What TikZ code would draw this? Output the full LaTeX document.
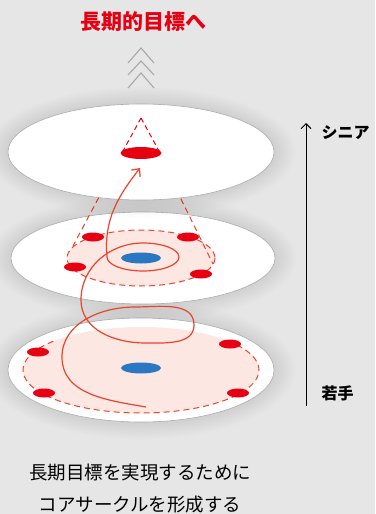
\documentclass[tikz,border=0pt]{standalone}
\usepackage{fontspec}
\newfontfamily\jp{Noto Sans CJK JP}
\usetikzlibrary{arrows.meta}
\definecolor{bg}{HTML}{E6E6E6}
\definecolor{cred}{HTML}{E60012}
\definecolor{cblue}{HTML}{2A78C2}
\definecolor{cline}{HTML}{E8452C}
\definecolor{cpink}{HTML}{FDE7E3}
\definecolor{cchev}{HTML}{A8A8A8}
\tikzset{
  layer/.style={fill=white, draw=black!32, line width=0.6pt},
  reddot/.style={fill=cred},
  bluedot/.style={fill=cblue},
  pinkarea/.style={fill=cpink},
  conedash/.style={draw=cline, dash pattern=on 6pt off 4pt, line width=1pt},
  topdash/.style={draw=cred, dash pattern=on 5pt off 3.5pt, line width=1pt},
  spiralline/.style={draw=cline, line width=1.2pt},
  chev/.style={draw=cchev, line width=1.1pt},
  titletext/.style={font=\jp\bfseries\fontsize{21}{24}\selectfont, text=cred},
  sidetext/.style={font=\jp\bfseries\fontsize{16}{19}\selectfont, anchor=west},
  captext/.style={font=\jp\fontsize{18.5}{21}\selectfont},
}
\newcommand{\glowellipse}[4]{%
  \foreach \d in {1,...,22}{%
    \fill[black, opacity=0.0042] (#1,#2) ellipse[x radius={#3+\d}, y radius={#4+0.8*\d}];
  }%
}
\begin{document}
\begin{tikzpicture}[x=1pt,y=-1pt]
\fill[bg] (0,0) rectangle (375,514);
\useasboundingbox (0,0) rectangle (375,514);

% title and chevrons
\node[titletext] (goal) at (143,22) {長期的目標へ};
\draw[chev] (128,63) -- (141,48) -- (154,63);
\draw[chev] (128,75) -- (141,61) -- (154,75);
\draw[chev] (128,88) -- (141,73) -- (154,88);

% bottom layer
\glowellipse{141}{370}{133}{52}
\draw[layer] (141,370) ellipse[x radius=133, y radius=52];
\fill[pinkarea] (141,370) ellipse[x radius=118, y radius=43];
\draw[conedash] (141,370) ++(222:118 and 43) arc[start angle=222, end angle=-34, x radius=118, y radius=43];
\fill[bluedot] (141,368) ellipse[x radius=20, y radius=5.5];
\fill[reddot] (38,352) ellipse[x radius=11, y radius=4.5];
\fill[reddot] (230,344) ellipse[x radius=11, y radius=4.5];
\fill[reddot] (44,393) ellipse[x radius=11, y radius=4.5];
\fill[reddot] (238,393) ellipse[x radius=11, y radius=4.5];

% middle layer
\glowellipse{143}{258}{132}{46}
\draw[layer] (143,258) ellipse[x radius=132, y radius=46];
\fill[pinkarea] (141,258) ellipse[x radius=74, y radius=28];
\draw[conedash] (141,258) ellipse[x radius=74, y radius=28];
\fill[bluedot] (141,258) ellipse[x radius=20, y radius=5.5];
\fill[reddot] (93,237) ellipse[x radius=11, y radius=4.5];
\fill[reddot] (188,237) ellipse[x radius=11, y radius=4.5];
\fill[reddot] (75,267) ellipse[x radius=11, y radius=4.5];
\fill[reddot] (201,274) ellipse[x radius=11, y radius=4.5];

% cone lines behind the top layer
\coordinate (apex) at (141,118);
\coordinate (coneL) at (73,246);
\coordinate (coneR) at (213,264);
\draw[conedash] (apex) -- (coneL);
\draw[conedash] (apex) -- (coneR);

% top layer
\glowellipse{141}{152}{133}{48}
\draw[layer] (141,152) ellipse[x radius=133, y radius=48];
\coordinate (baseL) at (123,151);
\coordinate (baseR) at (159,151);
\draw[topdash] (apex) -- (baseL);
\draw[topdash] (apex) -- (baseR);
\fill[reddot] (141,153) ellipse[x radius=20.5, y radius=6];

% spiral
\coordinate (sStart) at (146,407);
\coordinate (sTip) at (140,168);
\draw[spiralline, -{Straight Barb[length=6pt,width=11pt]}]
  (sStart) .. controls (109,400.5) and (62,395) .. (62,357)
  .. controls (62,323) and (101,307) .. (135,307)
  .. controls (159,307) and (194,301) .. (194,325)
  .. controls (194,345) and (165,343) .. (145,343)
  .. controls (115,343) and (81,330) .. (81,300)
  .. controls (81,267) and (110,243) .. (143,243)
  .. controls (163,243) and (179,249.3) .. (179,257)
  .. controls (179,264.7) and (163,271) .. (143,271)
  .. controls (123,271) and (107,264.7) .. (107,257)
  .. controls (103.7,220) and (117.4,197.2) .. (sTip);

% vertical scale arrow
\coordinate (abot) at (306,406);
\coordinate (atop) at (306,123);
\draw[line width=1pt, -{Straight Barb[length=5pt,width=10pt]}] (abot) -- (atop);
\node[sidetext] (senior) at (318,133) {シニア};
\node[sidetext] (young) at (318,393) {若手};

% caption
\node[captext] (cap1) at (140,473) {長期目標を実現するために};
\node[captext] (cap2) at (140,505) {コアサークルを形成する};
\end{tikzpicture}
\end{document}
